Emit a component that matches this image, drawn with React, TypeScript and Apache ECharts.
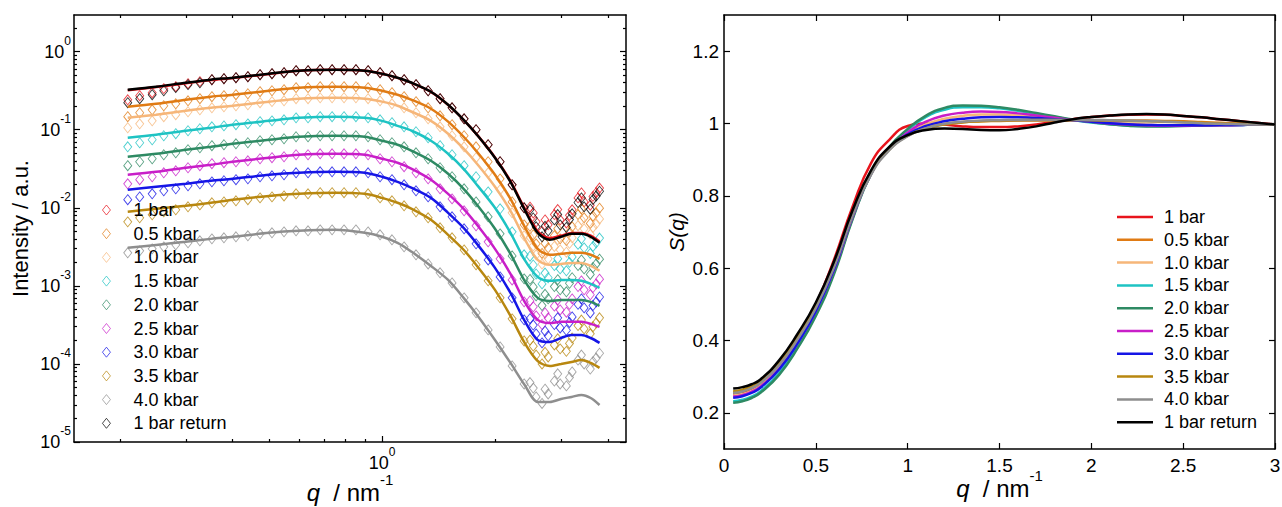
import React, { useEffect, useRef } from "react";
import * as echarts from "echarts";

const FONT = '"Liberation Sans", Arial, Helvetica, sans-serif';

const pressureLabels = ["1 bar", "0.5 kbar", "1.0 kbar", "1.5 kbar", "2.0 kbar", "2.5 kbar", "3.0 kbar", "3.5 kbar", "4.0 kbar", "1 bar return"];
const seriesColors = ["#e8141c", "#e07b14", "#f6b679", "#1ec3c3", "#2e8a63", "#c81ec8", "#1515e6", "#b8870f", "#8e8e8e", "#000000"];

// ---------- Left panel: SAXS intensity (log-log) ----------
const qData = [0.21, 0.226, 0.244, 0.262, 0.282, 0.304, 0.327, 0.352, 0.379, 0.408, 0.439, 0.473, 0.509, 0.548, 0.59, 0.635, 0.684, 0.736, 0.792, 0.852, 0.918, 0.988, 1.063, 1.145, 1.232, 1.327, 1.428, 1.537, 1.655, 1.781, 1.918, 2.064, 2.222, 2.392, 2.575, 2.772, 2.984, 3.212, 3.457, 3.722];
const qNoise = [2.48, 2.67, 2.88, 3.1, 3.33, 3.59, 3.8];
const qNoise2 = [2.53, 2.72, 2.94, 3.16, 3.4, 3.65];
const qFit = [0.21, 0.25, 0.3, 0.35, 0.4, 0.5, 0.6, 0.75, 0.9, 1.0, 1.1, 1.2, 1.35, 1.5, 1.65, 1.8, 2.0, 2.2, 2.4, 2.6, 2.8, 3.0, 3.2, 3.4, 3.6, 3.8];

const data1bar = [0.242, 0.273, 0.298, 0.336, 0.356, 0.389, 0.413, 0.438, 0.451, 0.464, 0.478, 0.507, 0.522, 0.538, 0.571, 0.571, 0.588, 0.588, 0.588, 0.588, 0.571, 0.538, 0.492, 0.438, 0.378, 0.316, 0.25, 0.191, 0.138, 0.1, 0.0642, 0.0389, 0.0197, 0.01, 0.00661, 0.00605, 0.00702, 0.00943, 0.0119, 0.0156];
const data05 = [0.147, 0.165, 0.18, 0.203, 0.215, 0.235, 0.25, 0.265, 0.273, 0.281, 0.289, 0.307, 0.316, 0.326, 0.346, 0.346, 0.356, 0.356, 0.356, 0.356, 0.346, 0.326, 0.298, 0.265, 0.229, 0.191, 0.151, 0.116, 0.0838, 0.0605, 0.0389, 0.0235, 0.0119, 0.00605, 0.00346, 0.00307, 0.004, 0.00571, 0.00744, 0.00863];
const data10 = [0.106, 0.119, 0.13, 0.147, 0.156, 0.17, 0.18, 0.191, 0.197, 0.203, 0.209, 0.222, 0.229, 0.235, 0.25, 0.25, 0.257, 0.257, 0.257, 0.257, 0.25, 0.235, 0.215, 0.191, 0.165, 0.138, 0.109, 0.0838, 0.0605, 0.0438, 0.0281, 0.017, 0.00863, 0.00438, 0.0025, 0.00222, 0.00289, 0.00413, 0.00538, 0.00624];
const data15 = [0.0605, 0.0681, 0.0744, 0.0838, 0.0889, 0.0971, 0.103, 0.109, 0.112, 0.116, 0.119, 0.127, 0.13, 0.134, 0.142, 0.142, 0.147, 0.147, 0.147, 0.147, 0.142, 0.134, 0.123, 0.109, 0.0943, 0.079, 0.0624, 0.0478, 0.0346, 0.025, 0.016, 0.00971, 0.00492, 0.0025, 0.00142, 0.00127, 0.00165, 0.00235, 0.00307, 0.00356];
const data20 = [0.0346, 0.0389, 0.0425, 0.0478, 0.0507, 0.0554, 0.0588, 0.0624, 0.0642, 0.0661, 0.0681, 0.0723, 0.0744, 0.0767, 0.0813, 0.0813, 0.0838, 0.0838, 0.0838, 0.0838, 0.0813, 0.0744, 0.0681, 0.0605, 0.0507, 0.0425, 0.0326, 0.025, 0.0175, 0.0119, 0.00767, 0.00464, 0.00242, 0.00123, 0.000744, 0.000681, 0.000889, 0.00127, 0.00165, 0.00191];
const data25 = [0.0203, 0.0229, 0.025, 0.0281, 0.0298, 0.0326, 0.0346, 0.0367, 0.0378, 0.0389, 0.04, 0.0425, 0.0438, 0.0451, 0.0478, 0.0478, 0.0492, 0.0492, 0.0492, 0.0492, 0.0478, 0.0425, 0.0389, 0.0336, 0.0281, 0.0235, 0.0175, 0.013, 0.00915, 0.00588, 0.00367, 0.00222, 0.00119, 0.000624, 0.000413, 0.000389, 0.000492, 0.000681, 0.000889, 0.00106];
const data30 = [0.0127, 0.0138, 0.0151, 0.0165, 0.0175, 0.0191, 0.0203, 0.0215, 0.0222, 0.0229, 0.0235, 0.025, 0.0257, 0.0265, 0.0281, 0.0281, 0.0289, 0.0289, 0.0289, 0.0289, 0.0281, 0.025, 0.0229, 0.0197, 0.0165, 0.0138, 0.0103, 0.00767, 0.00538, 0.00346, 0.00215, 0.0013, 0.000702, 0.000367, 0.000242, 0.000229, 0.000289, 0.0004, 0.000522, 0.000624];
const data35 = [0.00661, 0.00744, 0.00813, 0.00889, 0.00943, 0.0103, 0.0109, 0.0116, 0.0119, 0.0123, 0.0127, 0.0134, 0.0138, 0.0142, 0.0151, 0.0151, 0.0156, 0.0156, 0.0156, 0.0156, 0.0151, 0.0134, 0.0123, 0.0106, 0.00889, 0.00744, 0.00554, 0.00413, 0.00289, 0.00186, 0.00116, 0.000702, 0.000378, 0.000197, 0.00013, 0.000123, 0.000156, 0.000215, 0.000281, 0.000336];
const data40 = [0.00265, 0.00281, 0.00298, 0.00316, 0.00336, 0.00356, 0.00378, 0.004, 0.00413, 0.00425, 0.00438, 0.00464, 0.00478, 0.00492, 0.00507, 0.00507, 0.00522, 0.00522, 0.00522, 0.00522, 0.00492, 0.00451, 0.00389, 0.00316, 0.0025, 0.00191, 0.00147, 0.00109, 0.000702, 0.000451, 0.000273, 0.000165, 0.0000943, 0.0000554, 0.0000378, 0.0000413, 0.0000554, 0.000079, 0.0001, 0.000119];
const dataReturn = [0.222, 0.25, 0.281, 0.316, 0.346, 0.378, 0.4, 0.438, 0.451, 0.464, 0.478, 0.507, 0.522, 0.538, 0.571, 0.571, 0.588, 0.588, 0.588, 0.588, 0.571, 0.538, 0.492, 0.438, 0.378, 0.316, 0.25, 0.191, 0.138, 0.1, 0.0642, 0.0389, 0.0197, 0.01, 0.00571, 0.00507, 0.00605, 0.00838, 0.0103, 0.0142];

const noise1bar = [0.0102, 0.005, 0.0082, 0.0064, 0.0134, 0.0108, 0.0179];
const noise05 = [0.0058, 0.0026, 0.0044, 0.0038, 0.0082, 0.0063, 0.0099];
const noise10 = [0.0042, 0.0019, 0.0032, 0.0027, 0.0059, 0.0046, 0.0072];
const noise15 = [0.0024, 0.00106, 0.00182, 0.00156, 0.0034, 0.0026, 0.0041];
const noise20 = [0.00121, 0.00056, 0.00098, 0.00084, 0.00182, 0.0014, 0.0022];
const noise25 = [0.00064, 0.00032, 0.00055, 0.00046, 0.00098, 0.00077, 0.00122];
const noise30 = [0.00038, 0.000186, 0.00032, 0.00027, 0.00058, 0.00045, 0.00072];
const noise35 = [0.000202, 0.0001, 0.000175, 0.000145, 0.00031, 0.000243, 0.00039];
const noise40 = [0.0000577, 0.0000312, 0.0000602, 0.0000523, 0.000112, 0.0000861, 0.000137];
const noiseReturn = [0.0095, 0.00425, 0.007, 0.0056, 0.0117, 0.0096, 0.0163];

const noiseB1bar = [0.0086, 0.007, 0.0095, 0.008, 0.0155, 0.014];
const noiseB05 = [0.0045, 0.0035, 0.0054, 0.0049, 0.0097, 0.0078];
const noiseB10 = [0.00325, 0.00255, 0.0039, 0.0035, 0.007, 0.0056];
const noiseB15 = [0.00185, 0.00146, 0.00223, 0.002, 0.004, 0.0032];
const noiseB20 = [0.00097, 0.00078, 0.0012, 0.00108, 0.00215, 0.00172];
const noiseB25 = [0.00054, 0.00045, 0.00066, 0.00058, 0.00116, 0.00095];
const noiseB30 = [0.000315, 0.000263, 0.00039, 0.00034, 0.00068, 0.00056];
const noiseB35 = [0.000169, 0.000141, 0.00021, 0.000183, 0.000365, 0.0003];
const noiseB40 = [0.000049, 0.0000475, 0.0000748, 0.0000672, 0.00013, 0.000107];
const noiseBReturn = [0.0074, 0.0058, 0.0082, 0.0071, 0.0134, 0.0128];

const fit1bar = [0.32, 0.352, 0.395, 0.433, 0.46, 0.518, 0.568, 0.585, 0.568, 0.52, 0.462, 0.398, 0.305, 0.208, 0.134, 0.084, 0.0442, 0.022, 0.0098, 0.005, 0.0041, 0.0044, 0.00475, 0.00475, 0.0044, 0.0037];
const fit05 = [0.197, 0.215, 0.242, 0.265, 0.281, 0.316, 0.346, 0.356, 0.346, 0.316, 0.281, 0.242, 0.186, 0.127, 0.0813, 0.0507, 0.0265, 0.013, 0.00571, 0.00298, 0.0025, 0.00257, 0.00265, 0.00265, 0.0025, 0.00222];
const fit10 = [0.142, 0.156, 0.175, 0.191, 0.203, 0.229, 0.25, 0.257, 0.25, 0.229, 0.203, 0.17, 0.13, 0.0889, 0.0571, 0.0356, 0.0186, 0.00915, 0.004, 0.00215, 0.00186, 0.00191, 0.00197, 0.00197, 0.0018, 0.00156];
const fit15 = [0.079, 0.0863, 0.0971, 0.106, 0.116, 0.13, 0.142, 0.147, 0.142, 0.13, 0.112, 0.0971, 0.0723, 0.0492, 0.0316, 0.0191, 0.01, 0.00478, 0.00215, 0.0013, 0.00116, 0.00119, 0.00119, 0.00116, 0.00106, 0.000943];
const fit20 = [0.0451, 0.0492, 0.0554, 0.0606, 0.0661, 0.0744, 0.0813, 0.0838, 0.0813, 0.0723, 0.0642, 0.0538, 0.04, 0.0273, 0.0175, 0.0106, 0.00538, 0.00257, 0.00116, 0.000702, 0.000642, 0.000661, 0.000661, 0.000661, 0.000623, 0.000554];
const fit25 = [0.0265, 0.0289, 0.0326, 0.0356, 0.0389, 0.0438, 0.0478, 0.0492, 0.0478, 0.0425, 0.0378, 0.0316, 0.0229, 0.0151, 0.00971, 0.00588, 0.00298, 0.00142, 0.000623, 0.000367, 0.000335, 0.000346, 0.000346, 0.000346, 0.000326, 0.000298];
const fit30 = [0.017, 0.0186, 0.0203, 0.0222, 0.0235, 0.0265, 0.0281, 0.0289, 0.0281, 0.025, 0.0215, 0.018, 0.0134, 0.00863, 0.00554, 0.00335, 0.0017, 0.000813, 0.000356, 0.000203, 0.000191, 0.000215, 0.000235, 0.000235, 0.000215, 0.000186];
const fit35 = [0.00889, 0.00971, 0.0106, 0.0116, 0.0127, 0.0142, 0.0151, 0.0156, 0.0151, 0.0134, 0.0116, 0.00971, 0.00702, 0.00451, 0.0029, 0.00175, 0.000889, 0.000412, 0.000186, 0.000109, 0.0000942, 0.0001, 0.000106, 0.000112, 0.000103, 0.0000889];
const fit40 = [0.00307, 0.00335, 0.00367, 0.004, 0.00425, 0.00478, 0.00507, 0.00522, 0.00478, 0.00425, 0.00356, 0.00273, 0.0018, 0.00119, 0.000702, 0.000412, 0.000203, 0.000103, 0.0000538, 0.0000326, 0.0000326, 0.0000356, 0.0000378, 0.0000401, 0.0000366, 0.0000298];
const fitReturn = [0.326, 0.356, 0.4, 0.438, 0.464, 0.522, 0.571, 0.588, 0.571, 0.522, 0.464, 0.4, 0.307, 0.209, 0.134, 0.0838, 0.0438, 0.0215, 0.00943, 0.00478, 0.00389, 0.00425, 0.00464, 0.00464, 0.00425, 0.00356];

const leftData = [data1bar, data05, data10, data15, data20, data25, data30, data35, data40, dataReturn];
const leftNoise = [noise1bar, noise05, noise10, noise15, noise20, noise25, noise30, noise35, noise40, noiseReturn];
const leftNoise2 = [noiseB1bar, noiseB05, noiseB10, noiseB15, noiseB20, noiseB25, noiseB30, noiseB35, noiseB40, noiseBReturn];
const leftFits = [fit1bar, fit05, fit10, fit15, fit20, fit25, fit30, fit35, fit40, fitReturn];

const leftXMajor = [1];
const leftXMinor = [0.2, 0.3, 0.4, 0.5, 0.6, 0.7, 0.8, 0.9, 2, 3, 4];
const leftYMajor = [1e-5, 1e-4, 1e-3, 1e-2, 1e-1, 1];
const leftYMinor = [
  2e-5, 3e-5, 4e-5, 5e-5, 6e-5, 7e-5, 8e-5, 9e-5,
  2e-4, 3e-4, 4e-4, 5e-4, 6e-4, 7e-4, 8e-4, 9e-4,
  2e-3, 3e-3, 4e-3, 5e-3, 6e-3, 7e-3, 8e-3, 9e-3,
  2e-2, 3e-2, 4e-2, 5e-2, 6e-2, 7e-2, 8e-2, 9e-2,
  0.2, 0.3, 0.4, 0.5, 0.6, 0.7, 0.8, 0.9, 2,
];

// ---------- Right panel: S(q) ----------
const qS = [0.05, 0.1, 0.15, 0.2, 0.3, 0.4, 0.5, 0.6, 0.7, 0.8, 0.9, 1.0, 1.1, 1.2, 1.3, 1.4, 1.5, 1.6, 1.7, 1.8, 1.9, 2.0, 2.1, 2.2, 2.3, 2.4, 2.5, 2.6, 2.7, 2.8, 2.9, 3.0];
const s1bar = [0.252, 0.256, 0.265, 0.281, 0.333, 0.407, 0.5, 0.625, 0.77, 0.89, 0.955, 0.993, 1.0, 0.997, 0.992, 0.99, 0.99, 0.992, 0.997, 1.005, 1.012, 1.018, 1.022, 1.024, 1.025, 1.024, 1.021, 1.017, 1.012, 1.007, 1.002, 0.997];
const s05 = [0.257, 0.261, 0.27, 0.285, 0.335, 0.407, 0.495, 0.61, 0.752, 0.865, 0.93, 0.968, 0.988, 0.999, 1.004, 1.006, 1.007, 1.008, 1.008, 1.008, 1.008, 1.008, 1.008, 1.008, 1.008, 1.007, 1.006, 1.004, 1.002, 1.0, 0.998, 0.997];
const s10 = [0.248, 0.252, 0.261, 0.276, 0.326, 0.398, 0.487, 0.602, 0.748, 0.862, 0.93, 0.972, 0.998, 1.013, 1.021, 1.025, 1.025, 1.022, 1.018, 1.014, 1.01, 1.006, 1.002, 0.999, 0.997, 0.996, 0.996, 0.996, 0.996, 0.997, 0.997, 0.997];
const s15 = [0.232, 0.236, 0.245, 0.26, 0.31, 0.383, 0.473, 0.59, 0.738, 0.86, 0.933, 0.982, 1.018, 1.038, 1.045, 1.045, 1.042, 1.035, 1.027, 1.018, 1.01, 1.003, 0.998, 0.994, 0.993, 0.993, 0.994, 0.995, 0.996, 0.996, 0.997, 0.997];
const s20 = [0.228, 0.232, 0.241, 0.256, 0.305, 0.378, 0.468, 0.585, 0.735, 0.86, 0.935, 0.985, 1.022, 1.043, 1.05, 1.049, 1.045, 1.038, 1.029, 1.02, 1.011, 1.004, 0.998, 0.994, 0.992, 0.992, 0.993, 0.994, 0.995, 0.996, 0.997, 0.997];
const s25 = [0.245, 0.249, 0.258, 0.273, 0.322, 0.393, 0.482, 0.597, 0.742, 0.86, 0.93, 0.975, 1.005, 1.022, 1.03, 1.033, 1.032, 1.028, 1.022, 1.016, 1.01, 1.005, 1.0, 0.997, 0.995, 0.994, 0.994, 0.995, 0.995, 0.996, 0.997, 0.997];
const s30 = [0.242, 0.246, 0.255, 0.27, 0.32, 0.392, 0.482, 0.598, 0.745, 0.862, 0.93, 0.97, 0.993, 1.006, 1.013, 1.017, 1.018, 1.017, 1.015, 1.012, 1.009, 1.005, 1.001, 0.998, 0.996, 0.995, 0.995, 0.995, 0.996, 0.996, 0.997, 0.997];
const s35 = [0.26, 0.264, 0.273, 0.288, 0.337, 0.409, 0.496, 0.61, 0.75, 0.862, 0.928, 0.966, 0.986, 0.997, 1.003, 1.006, 1.008, 1.009, 1.01, 1.01, 1.01, 1.009, 1.008, 1.007, 1.006, 1.005, 1.004, 1.002, 1.0, 0.999, 0.998, 0.997];
const s40 = [0.255, 0.259, 0.268, 0.283, 0.332, 0.403, 0.49, 0.604, 0.745, 0.858, 0.926, 0.965, 0.987, 0.999, 1.005, 1.008, 1.009, 1.01, 1.01, 1.01, 1.01, 1.01, 1.009, 1.008, 1.007, 1.005, 1.003, 1.001, 0.999, 0.998, 0.997, 0.997];
const sReturn = [0.267, 0.271, 0.279, 0.293, 0.345, 0.418, 0.505, 0.62, 0.76, 0.87, 0.935, 0.968, 0.982, 0.986, 0.985, 0.982, 0.981, 0.985, 0.992, 1.003, 1.012, 1.018, 1.022, 1.025, 1.026, 1.025, 1.021, 1.017, 1.012, 1.007, 1.002, 0.997];
const rightCurves = [s1bar, s05, s10, s15, s20, s25, s30, s35, s40, sReturn];

const rightXTicks = [0, 0.5, 1, 1.5, 2, 2.5, 3];
const rightYTicks = [0.2, 0.4, 0.6, 0.8, 1, 1.2];

// ---------- Shared styling ----------
const BLACK = "#000";
const axisLineStyle = { color: BLACK, width: 1.5 };
const tickStyle = { color: BLACK, width: 1.2 };

const powRich: any = {
  b: { fontSize: 18, lineHeight: 26, verticalAlign: "bottom", fontFamily: FONT, color: BLACK },
  sup: { fontSize: 12, lineHeight: 14, verticalAlign: "top", fontFamily: FONT, color: BLACK },
};
const nameRich: any = {
  i: { fontSize: 24, lineHeight: 32, verticalAlign: "bottom", fontStyle: "italic", fontFamily: FONT, color: BLACK },
  b: { fontSize: 24, lineHeight: 32, verticalAlign: "bottom", fontFamily: FONT, color: BLACK },
  sup: { fontSize: 15, lineHeight: 16, verticalAlign: "top", fontFamily: FONT, color: BLACK },
};
const powLabel = (v: number) => `{b|10}{sup|${Math.round(Math.log10(v))}}`;

function logAxis(pos: string, min: number, max: number, major: boolean, values: number[], extra: any = {}) {
  return {
    type: "log",
    position: pos,
    min,
    max,
    logBase: 10,
    axisLine: major ? { show: true, onZero: false, lineStyle: axisLineStyle } : { show: false },
    axisTick: { show: true, inside: true, length: major ? 6 : 3, customValues: values, lineStyle: tickStyle },
    axisLabel: { show: false },
    splitLine: { show: false },
    minorTick: { show: false },
    ...extra,
  };
}

function leftOption(): any {
  const xMin = 0.151, xMax = 4.47, yMin = 1e-5, yMax = 2.95;
  const scatters = leftData.map((arr, k) => ({
    type: "scatter",
    name: pressureLabels[k],
    xAxisIndex: 0,
    yAxisIndex: 0,
    data: qData
      .map((q, i) => [q, arr[i]])
      .concat(qNoise.map((q, i) => [q, leftNoise[k][i]]))
      .concat(qNoise2.map((q, i) => [q, leftNoise2[k][i]])),
    symbol: "diamond",
    symbolSize: [8, 10],
    itemStyle: { color: "transparent", borderColor: seriesColors[k], borderWidth: 0.9 },
    silent: true,
    z: 2,
  }));
  const fits = leftFits.map((arr, k) => ({
    type: "line",
    name: pressureLabels[k] + " fit",
    xAxisIndex: 0,
    yAxisIndex: 0,
    data: qFit.map((q, i) => [q, arr[i]]),
    smooth: 0.3,
    showSymbol: false,
    symbol: "none",
    lineStyle: { color: seriesColors[k], width: 2.5 },
    silent: true,
    z: 3,
  }));
  return {
    animation: false,
    backgroundColor: "#fff",
    textStyle: { fontFamily: FONT },
    grid: { left: 74, top: 15, right: 24, bottom: 65, outerBoundsMode: "none", containLabel: false },
    xAxis: [
      logAxis("bottom", xMin, xMax, true, leftXMajor, {
        axisLabel: { show: true, customValues: leftXMajor, formatter: powLabel, rich: powRich, margin: 4 },
        name: "{i|q}{b|  / nm}{sup|-1}",
        nameLocation: "middle",
        nameGap: 30,
        nameMoveOverlap: false,
        nameTextStyle: { rich: nameRich },
      }),
      logAxis("top", xMin, xMax, true, leftXMajor),
      logAxis("bottom", xMin, xMax, false, leftXMinor),
      logAxis("top", xMin, xMax, false, leftXMinor),
    ],
    yAxis: [
      logAxis("left", yMin, yMax, true, leftYMajor, {
        axisLabel: { show: true, customValues: leftYMajor, formatter: powLabel, rich: powRich, margin: 3, padding: [0, 0, 8, 0] },
        name: "Intensity / a.u.",
        nameLocation: "middle",
        nameGap: 43,
        nameMoveOverlap: false,
        nameTextStyle: { fontSize: 22, fontFamily: FONT, color: BLACK },
      }),
      logAxis("right", yMin, yMax, true, leftYMajor),
      logAxis("left", yMin, yMax, false, leftYMinor),
      logAxis("right", yMin, yMax, false, leftYMinor),
    ],
    legend: {
      show: true,
      orient: "vertical",
      left: 102,
      top: 201,
      padding: 0,
      itemWidth: 8,
      itemHeight: 10,
      itemGap: 5.7,
      selectedMode: false,
      data: pressureLabels.map((p, k) => ({
        name: p,
        icon: "diamond",
        itemStyle: { color: "transparent", borderColor: seriesColors[k], borderWidth: 0.9, opacity: 0.8 },
      })),
      textStyle: { fontSize: 18, lineHeight: 18, fontFamily: FONT, color: BLACK, padding: [0, 0, 0, 18] },
    },
    series: [...scatters, ...fits],
  };
}

function linAxis(type: "x" | "y", pos: string, min: number, max: number, ticks: number[], labels: boolean, extra: any = {}) {
  return {
    type: "value",
    position: pos,
    min,
    max,
    axisLine: { show: true, onZero: false, lineStyle: axisLineStyle },
    axisTick: { show: true, inside: true, length: 6, customValues: ticks, lineStyle: tickStyle },
    axisLabel: labels
      ? { show: true, customValues: ticks, fontSize: 19, fontFamily: FONT, color: BLACK, margin: type === "x" ? 7 : 5 }
      : { show: false },
    splitLine: { show: false },
    ...extra,
  };
}

function rightOption(): any {
  const series = rightCurves.map((arr, k) => ({
    type: "line",
    name: pressureLabels[k],
    data: qS.map((q, i) => [q, arr[i]]),
    smooth: true,
    showSymbol: false,
    symbol: "none",
    lineStyle: { color: seriesColors[k], width: 2.5 },
    itemStyle: { color: seriesColors[k] },
    silent: true,
  }));
  return {
    animation: false,
    backgroundColor: "#fff",
    textStyle: { fontFamily: FONT },
    grid: { left: 74, top: 15, right: 7, bottom: 58, outerBoundsMode: "none", containLabel: false },
    xAxis: [
      linAxis("x", "bottom", 0, 3, rightXTicks, true, {
        name: "{i|q}{b|  / nm}{sup|-1}",
        nameLocation: "middle",
        nameGap: 19,
        nameMoveOverlap: false,
        nameTextStyle: { rich: nameRich },
      }),
      linAxis("x", "top", 0, 3, rightXTicks, false),
    ],
    yAxis: [
      linAxis("y", "left", 0.1, 1.3, rightYTicks, true, {
        name: "S(q)",
        nameLocation: "middle",
        nameGap: 37,
        nameMoveOverlap: false,
        nameTextStyle: { fontSize: 21, fontStyle: "italic", fontFamily: FONT, color: BLACK },
      }),
      linAxis("y", "right", 0.1, 1.3, rightYTicks, false),
    ],
    legend: {
      show: true,
      orient: "vertical",
      left: 467,
      top: 208,
      padding: 0,
      itemWidth: 36,
      itemHeight: 2.5,
      itemGap: 4.8,
      selectedMode: false,
      data: pressureLabels.map((p, k) => ({ name: p, icon: "rect", itemStyle: { color: seriesColors[k] } })),
      textStyle: { fontSize: 18, lineHeight: 18, fontFamily: FONT, color: BLACK, padding: [0, 0, 0, 6] },
    },
    series,
  };
}

export default function App() {
  const leftRef = useRef<HTMLDivElement>(null);
  const rightRef = useRef<HTMLDivElement>(null);
  useEffect(() => {
    const l = echarts.init(leftRef.current!, null, { renderer: "svg" });
    const r = echarts.init(rightRef.current!, null, { renderer: "svg" });
    l.setOption(leftOption());
    r.setOption(rightOption());
    return () => {
      l.dispose();
      r.dispose();
    };
  }, []);
  return (
    <div style={{ position: "fixed", left: 0, top: 0, width: 1282, height: 507, background: "#fff" }}>
      <div ref={leftRef} style={{ position: "absolute", left: 0, top: 0, width: 650, height: 507 }} />
      <div ref={rightRef} style={{ position: "absolute", left: 650, top: 0, width: 632, height: 507 }} />
    </div>
  );
}
